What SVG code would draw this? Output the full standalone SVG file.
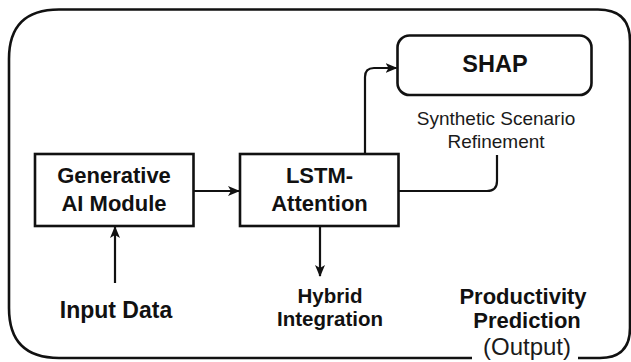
<svg xmlns="http://www.w3.org/2000/svg" width="631" height="362" viewBox="0 0 631 362">
  <style>
    .box { fill: #ffffff; stroke: #111111; stroke-width: 2.6; }
    .frame { fill: none; stroke: #111111; stroke-width: 2.6; }
    .wire { fill: none; stroke: #111111; stroke-width: 2.2; }
    .bold { font-family: "Liberation Sans", Arial, sans-serif; font-weight: bold; fill: #111111; text-anchor: middle; }
    .plain { font-family: "Liberation Sans", Arial, sans-serif; fill: #1a1a1a; text-anchor: middle; }
  </style>
  <defs>
    <marker id="arrow" viewBox="0 0 12 10" refX="11" refY="5" markerWidth="12" markerHeight="10" orient="auto" markerUnits="userSpaceOnUse">
      <path d="M0,0 L12,5 L0,10 L3,5 Z" fill="#111111"/>
    </marker>
  </defs>

  <rect width="631" height="362" fill="#ffffff"/>

  <!-- outer frame, open at the bottom where the output label sits -->
  <g id="frame">
    <path class="frame" d="M472,358 L59,358 Q9,358 9,308 L9,59 Q9,9.5 59,9.5 L598,9.5 Q630,9.5 630,41 L630,328 Q630,358 600,358 L578,358"/>
  </g>

  <g id="shap">
    <rect class="box" x="397.5" y="35.5" width="194" height="59.5" rx="12"/>
    <text class="bold" x="495" y="72" font-size="23.5">SHAP</text>
  </g>

  <g id="refinement">
    <text class="plain" x="496" y="125" font-size="19">Synthetic Scenario</text>
    <text class="plain" x="496" y="148" font-size="19">Refinement</text>
  </g>

  <g id="generative">
    <rect class="box" x="35" y="154" width="158.5" height="72"/>
    <text class="bold" x="114" y="183" font-size="22">Generative</text>
    <text class="bold" x="114" y="211" font-size="22">AI Module</text>
  </g>

  <g id="lstm">
    <rect class="box" x="240" y="154" width="158.5" height="72"/>
    <text class="bold" x="319.5" y="183" font-size="22">LSTM-</text>
    <text class="bold" x="319.5" y="211" font-size="22">Attention</text>
  </g>

  <g id="input">
    <text class="bold" x="116" y="318" font-size="23">Input Data</text>
  </g>

  <g id="hybrid">
    <text class="bold" x="330" y="303" font-size="20.5">Hybrid</text>
    <text class="bold" x="330" y="326" font-size="20.5">Integration</text>
  </g>

  <g id="output">
    <text class="bold" x="523" y="304" font-size="22">Productivity</text>
    <text class="bold" x="527" y="328" font-size="22">Prediction</text>
    <text class="plain" x="527" y="355" font-size="24">(Output)</text>
  </g>

  <g id="connectors">
    <path class="wire" d="M193.5,191 L239,191" marker-end="url(#arrow)"/>
    <path class="wire" d="M115,283 L115,227" marker-end="url(#arrow)"/>
    <path class="wire" d="M320,226 L320,276" marker-end="url(#arrow)"/>
    <path class="wire" d="M365,154 L365,77 Q365,68 374,68 L396.5,68" marker-end="url(#arrow)"/>
    <path class="wire" d="M398.5,191 L487,191 Q497,191 497,181 L497,155"/>
  </g>
</svg>
